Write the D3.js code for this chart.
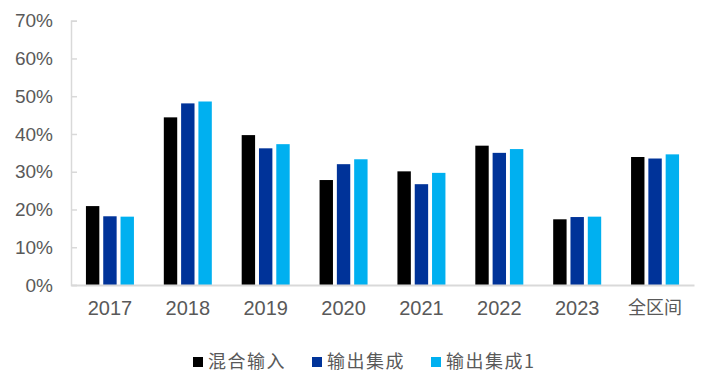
<!DOCTYPE html>
<html><head><meta charset="utf-8">
<script src="https://cdn.jsdelivr.net/npm/d3@7/dist/d3.min.js"></script>
<style>
html,body{margin:0;padding:0;background:#fff;}
svg{display:block;}
</style></head>
<body>
<svg id="chart" width="705" height="381"></svg>
<script>
const categories = ["2017","2018","2019","2020","2021","2022","2023","全区间"];
const seriesNames = ["混合输入","输出集成","输出集成1"];
const mixedInput = [20.9,44.4,39.7,27.8,30.1,36.9,17.4,33.9];
const outputEnsemble = [18.2,48.1,36.2,32.0,26.7,35.0,18.0,33.5];
const outputEnsemble1 = [18.1,48.6,37.3,33.3,29.7,36.0,18.1,34.6];
const yTicks = [0,10,20,30,40,50,60,70];
const colors = ["#000000","#003399","#00B0F0"];

(function(){
const series = [mixedInput, outputEnsemble, outputEnsemble1];
const svg = d3.select("#chart");
const mLeft = 71, mRight = 694, mTop = 20.7, mBottom = 285;

const x = d3.scaleBand().domain(categories).range([mLeft, mRight]).paddingInner(0).paddingOuter(0);
const y = d3.scaleLinear().domain([0,70]).range([mBottom, mTop]);
const barW = 13.4, barStep = 17.3;
const sub = d3.scaleLinear().domain([0,2]).range([-barStep, barStep]);

// y axis
const yAxis = d3.axisLeft(y).tickValues(yTicks).tickFormat(d => d + "%").tickSize(-6).tickPadding(24);
const gy = svg.append("g").attr("transform", `translate(${mLeft},0)`).call(yAxis);
gy.select(".domain").attr("stroke", "#d9d9d9").attr("stroke-width", 1.5);
gy.selectAll(".tick line").attr("stroke", "#d9d9d9").attr("stroke-width", 1.5);
gy.selectAll(".tick text").attr("fill", "#595959").attr("font-family", "'Liberation Sans', Arial, sans-serif").attr("font-size", 19).attr("x", -18).attr("text-anchor","end");

// bars
series.forEach((vals, si) => {
  svg.append("g").selectAll("rect").data(vals).join("rect")
    .attr("x", (d,i) => x(categories[i]) + x.bandwidth()/2 + sub(si) - barW/2)
    .attr("y", d => y(d))
    .attr("width", barW)
    .attr("height", d => y(0) - y(d))
    .attr("fill", colors[si]);
});

// x axis
const xAxis = d3.axisBottom(x).tickSize(0).tickPadding(16);
const gx = svg.append("g").attr("transform", `translate(0,${mBottom})`).call(xAxis);
gx.select(".domain").attr("stroke", "#d9d9d9").attr("stroke-width", 2);
gx.selectAll(".tick text").attr("fill", "#595959")
  .attr("font-family", d => /\d/.test(d) ? "'Liberation Sans', Arial, sans-serif" : "'Noto Sans CJK SC', sans-serif")
  .attr("font-size", d => /\d/.test(d) ? 20 : 18);

// legend
const lg = svg.append("g").attr("transform", "translate(193,362)");
let lx = 0;
seriesNames.forEach((name, i) => {
  const g = lg.append("g").attr("transform", `translate(${lx},0)`);
  g.append("rect").attr("x", 0).attr("y", -5).attr("width", 10).attr("height", 10).attr("fill", colors[i]);
  const t = g.append("text").attr("x", 15).attr("y", 0).attr("dy", "0.35em")
    .attr("fill", "#595959").attr("font-family", "'Noto Sans CJK SC', sans-serif")
    .attr("font-size", 18).attr("letter-spacing", 1.5).text(name);
  lx += 15 + t.node().getComputedTextLength() + 26;
});
})();
</script>
</body></html>
